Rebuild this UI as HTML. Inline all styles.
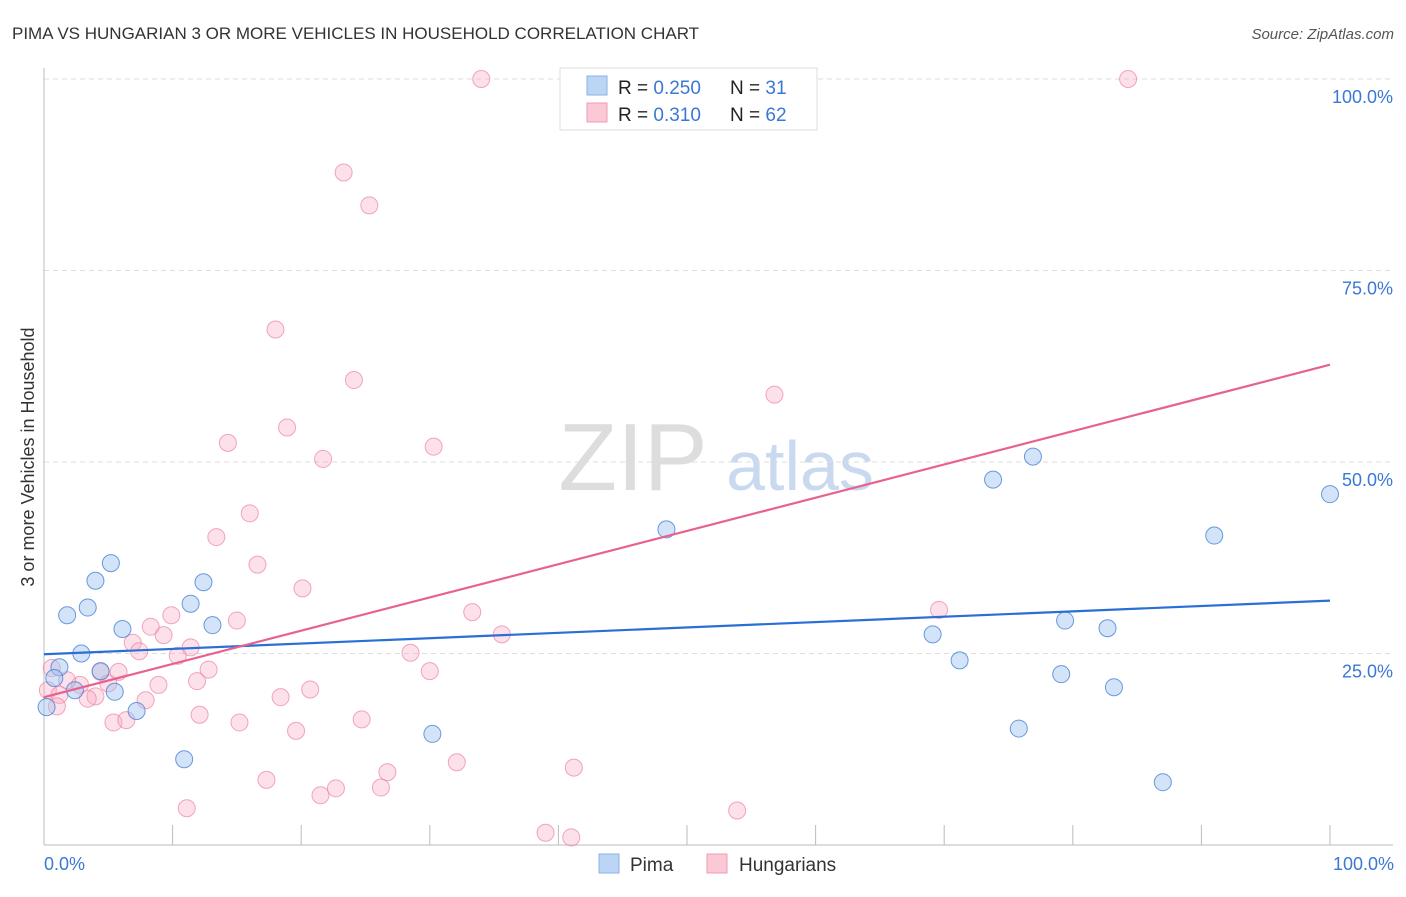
<!DOCTYPE html>
<html><head><meta charset="utf-8"><style>
body{margin:0;background:#fff;font-family:"Liberation Sans",sans-serif}
svg text{font-family:"Liberation Sans",sans-serif}
</style></head><body>
<svg id="chart" width="1406" height="892">
<text x="12" y="39" font-size="17" fill="#333">PIMA VS HUNGARIAN 3 OR MORE VEHICLES IN HOUSEHOLD CORRELATION CHART</text>
<text x="1394" y="39" font-size="15" fill="#555" font-style="italic" text-anchor="end">Source: ZipAtlas.com</text>
<g><text x="633" y="490" font-size="96" fill="#ddd" font-family="Liberation Serif" text-anchor="middle">ZIP</text><text x="800" y="490" font-size="70" fill="#c9d9ef" text-anchor="middle">atlas</text></g>
<g id="grid"></g><g id="axes"></g><g id="pts"></g><g id="lines"></g>
<text transform="translate(34,457) rotate(-90)" font-size="18" fill="#333" text-anchor="middle">3 or more Vehicles in Household</text>
<text x="44" y="870" font-size="18" fill="#3a78d4">0.0%</text>
<text x="1394" y="870" font-size="18" fill="#3a78d4" text-anchor="end">100.0%</text>
<g>
<rect x="560" y="68" width="257" height="62" fill="#fff" stroke="#ddd"/>
<rect x="587" y="76" width="20" height="19" fill="#bcd5f5" stroke="#8ab2e6"/>
<rect x="587" y="103" width="20" height="19" fill="#fbc8d6" stroke="#f09ab3"/>
<text x="618" y="94" font-size="19" fill="#222">R = <tspan fill="#3a78d4">0.250</tspan></text>
<text x="730" y="94" font-size="19" fill="#222">N = <tspan fill="#3a78d4"> 31</tspan></text>
<text x="618" y="121" font-size="19" fill="#222">R = <tspan fill="#3a78d4"> 0.310</tspan></text>
<text x="730" y="121" font-size="19" fill="#222">N = <tspan fill="#3a78d4">62</tspan></text>
</g>
<g>
<rect x="599" y="854" width="20" height="19" fill="#bcd5f5" stroke="#8ab2e6"/>
<text x="630" y="871" font-size="19" fill="#333">Pima</text>
<rect x="707" y="854" width="20" height="19" fill="#fbc8d6" stroke="#f09ab3"/>
<text x="739" y="871" font-size="19" fill="#333">Hungarians</text>
</g>
</svg>
<script>
const yTicks=[25,50,75,100];
const yTickLabels=["25.0%","50.0%","75.0%","100.0%"];
const xTicks=[0,10,20,30,40,50,60,70,80,90,100];
const pimaX=[1.8,3.4,4,5.2,2.9,1.2,0.8,0.2,2.4,4.4,5.5,6.1,7.2,11.4,12.4,13.1,10.9,30.2,48.4,69.1,71.2,73.8,76.9,79.4,79.1,82.7,83.2,75.8,87,91,100];
const pimaY=[30,31,34.5,36.8,25,23.2,21.8,18,20.2,22.7,20,28.2,17.5,31.5,34.3,28.7,11.2,14.5,41.2,27.5,24.1,47.7,50.7,29.3,22.3,28.3,20.6,15.2,8.2,40.4,45.8];
const hunX=[34,84.3,23.3,25.3,18,24.1,18.9,14.3,30.3,21.7,56.8,16,13.4,16.6,20.1,9.9,15,8.3,9.3,33.3,35.6,69.6,6.9,7.4,10.4,11.4,12.8,28.5,30,4.4,5.8,5,2.8,1.8,0.6,0.3,1.2,1,4,3.4,8.9,11.9,7.9,5.4,6.4,12.1,15.2,18.4,20.7,19.6,24.7,26.7,32.1,41.2,17.3,26.2,22.7,21.5,11.1,39,41,53.9];
const hunY=[100,100,87.8,83.5,67.3,60.7,54.5,52.5,52,50.4,58.8,43.3,40.2,36.6,33.5,30,29.3,28.5,27.4,30.4,27.5,30.7,26.4,25.3,24.7,25.8,22.9,25.1,22.7,22.6,22.6,21.1,20.9,21.5,23.1,20.2,19.6,18.1,19.4,19.1,20.9,21.4,18.9,16,16.3,17,16,19.3,20.3,14.9,16.4,9.5,10.8,10.1,8.5,7.5,7.4,6.5,4.8,1.6,1,4.5];
const blueLine=[24.9,31.9];
const pinkLine=[19.3,62.7];
const X=v=>44+v*12.86, Y=v=>845-v*7.66;
const NS="http://www.w3.org/2000/svg";
function mk(t,a,p){const e=document.createElementNS(NS,t);for(const k in a)e.setAttribute(k,a[k]);p.appendChild(e);return e;}
const grid=document.getElementById('grid'),axes=document.getElementById('axes'),pts=document.getElementById('pts'),lines=document.getElementById('lines');
yTicks.forEach((v,i)=>{
 const l=mk('line',{x1:44,x2:1393,y1:Y(v),y2:Y(v),stroke:'#ddd','stroke-dasharray':'5,4'},grid);
 
 
 const t=mk('text',{x:1393,y:Y(v)+24,'font-size':18,fill:'#3a78d4','text-anchor':'end'},grid);
 t.textContent=yTickLabels[i];
 
 
});
const xa=mk('line',{x1:44,x2:1393,y1:845,y2:845,stroke:'#bbb'},axes);


const ya=mk('line',{x1:44,x2:44,y1:68,y2:845,stroke:'#bbb'},axes);


xTicks.forEach(v=>{
 const t=mk('line',{x1:X(v),x2:X(v),y1:825,y2:845,stroke:'#bbb'},axes);
 
 
});
hunX.forEach((x,i)=>{
 const c=mk('circle',{cx:X(x),cy:Y(hunY[i]),r:8.5,fill:'rgba(248,170,195,0.35)',stroke:'rgba(236,130,163,0.7)','stroke-width':1},pts);
 
 
});
pimaX.forEach((x,i)=>{
 const c=mk('circle',{cx:X(x),cy:Y(pimaY[i]),r:8.5,fill:'rgba(160,195,240,0.45)',stroke:'rgba(70,130,215,0.8)','stroke-width':1},pts);
 
 
});
const bl=mk('line',{x1:X(0),y1:Y(blueLine[0]),x2:X(100),y2:Y(blueLine[1]),stroke:'#2a6fd6','stroke-width':2.2},lines);


const pl=mk('line',{x1:X(0),y1:Y(pinkLine[0]),x2:X(100),y2:Y(pinkLine[1]),stroke:'#e8628f','stroke-width':2.2},lines);


</script>
</body></html>
